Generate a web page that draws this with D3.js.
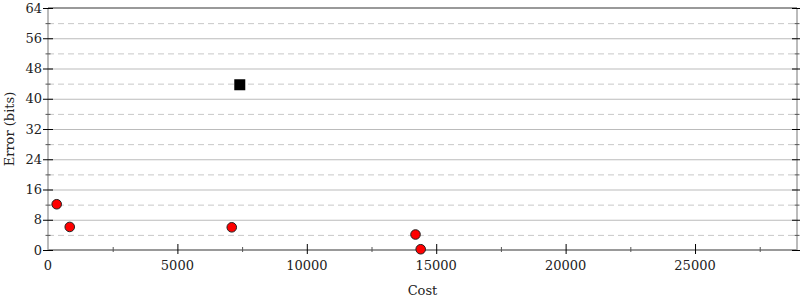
<!DOCTYPE html>
<html>
<head>
<meta charset="utf-8">
<script src="https://cdn.jsdelivr.net/npm/d3@7"></script>
<style>
  body { margin: 0; background: #fff; }
  svg { font-family: "DejaVu Serif", serif; }
</style>
</head>
<body>
<div id="chart"></div>
<script>
// data
var costs  = [336, 840, 7100, 14200, 14400];
var errors = [12.1, 6.1, 6.0, 4.1, 0.2];
var startCost = [7410];
var startError = [43.7];
var xTicks = [0, 5000, 10000, 15000, 20000, 25000];
var yTicks = [0, 8, 16, 24, 32, 40, 48, 56, 64];

var W = 800, H = 300;
var pLeft = 48, pRight = 797, pTop = 8, pBottom = 250;

var svg = d3.select("#chart").append("svg")
    .attr("width", W).attr("height", H);

var x = d3.scaleLinear().domain([0, 28940]).range([pLeft, pRight]);
var y = d3.scaleLinear().domain([0, 64]).range([pBottom, pTop]);

var xMinor = d3.range(2500, 28940, 5000);
var yMinor = d3.range(4, 64, 8);

// grid
svg.append("g").selectAll("line").data(yTicks.slice(1, -1)).join("line")
    .attr("x1", pLeft).attr("x2", pRight)
    .attr("y1", d => y(d) + 0.5).attr("y2", d => y(d) + 0.5)
    .attr("stroke", "#bbb").attr("stroke-width", 1.2);
svg.append("g").selectAll("line").data(yMinor).join("line")
    .attr("x1", pLeft).attr("x2", pRight)
    .attr("y1", d => y(d) + 0.5).attr("y2", d => y(d) + 0.5)
    .attr("stroke", "#c8c8c8").attr("stroke-dasharray", "6,4");

// frame
svg.append("line").attr("x1", pLeft).attr("x2", pLeft).attr("y1", pTop).attr("y2", pBottom)
    .attr("stroke", "#bbb").attr("stroke-width", 2);
svg.append("line").attr("x1", pRight).attr("x2", pRight).attr("y1", pTop).attr("y2", pBottom)
    .attr("stroke", "#bbb").attr("stroke-width", 2);
svg.append("line").attr("x1", pLeft).attr("x2", pRight).attr("y1", pTop).attr("y2", pTop)
    .attr("stroke", "#999").attr("stroke-width", 2);
svg.append("line").attr("x1", pLeft).attr("x2", pRight).attr("y1", pBottom).attr("y2", pBottom)
    .attr("stroke", "#999").attr("stroke-width", 2);

// ticks
var tk = svg.append("g").attr("stroke", "#000").attr("stroke-width", 1);
yTicks.forEach(function(d) {
  [pLeft, pRight].forEach(function(px) {
    tk.append("line").attr("x1", px - 5).attr("x2", px + 5)
      .attr("y1", y(d) + 0.5).attr("y2", y(d) + 0.5);
  });
});
yMinor.forEach(function(d) {
  [pLeft, pRight].forEach(function(px) {
    tk.append("line").attr("x1", px - 2.5).attr("x2", px + 2.5)
      .attr("y1", y(d) + 0.5).attr("y2", y(d) + 0.5).attr("stroke", "#555");
  });
});
xTicks.slice(1).forEach(function(d) {
  tk.append("line").attr("x1", x(d) + 0.5).attr("x2", x(d) + 0.5)
    .attr("y1", pBottom - 6).attr("y2", pBottom + 4);
});
xMinor.forEach(function(d) {
  tk.append("line").attr("x1", x(d) + 0.5).attr("x2", x(d) + 0.5)
    .attr("y1", pBottom - 3).attr("y2", pBottom + 2).attr("stroke", "#555");
});

// tick labels
svg.append("g").selectAll("text").data(yTicks).join("text")
    .attr("x", pLeft - 6).attr("y", d => y(d)).attr("dy", "0.35em")
    .attr("text-anchor", "end").attr("font-size", 13).attr("fill", "#222")
    .text(d => d);
svg.append("g").selectAll("text").data(xTicks).join("text")
    .attr("x", d => x(d)).attr("y", 270)
    .attr("text-anchor", "middle").attr("font-size", 13).attr("fill", "#222")
    .text(d => d);

// axis titles
svg.append("text").attr("x", x(14470)).attr("y", 295).attr("text-anchor", "middle")
    .attr("font-size", 13).attr("fill", "#222").text("Cost");
svg.append("text").attr("transform", "translate(14," + ((pTop + pBottom) / 2) + ")rotate(-90)")
    .attr("text-anchor", "middle").attr("font-size", 13).attr("fill", "#222")
    .text("Error (bits)");

// points
svg.append("g").selectAll("circle").data(costs).join("circle")
    .attr("cx", (d, i) => x(d)).attr("cy", (d, i) => y(errors[i])).attr("r", 4.8)
    .attr("fill", "#f00").attr("stroke", "#222").attr("stroke-width", 1);
svg.append("g").selectAll("rect").data(startCost).join("rect")
    .attr("x", (d, i) => x(d) - 5.5).attr("y", (d, i) => y(startError[i]) - 5.5)
    .attr("width", 11).attr("height", 11).attr("fill", "#000");
</script>
</body>
</html>
